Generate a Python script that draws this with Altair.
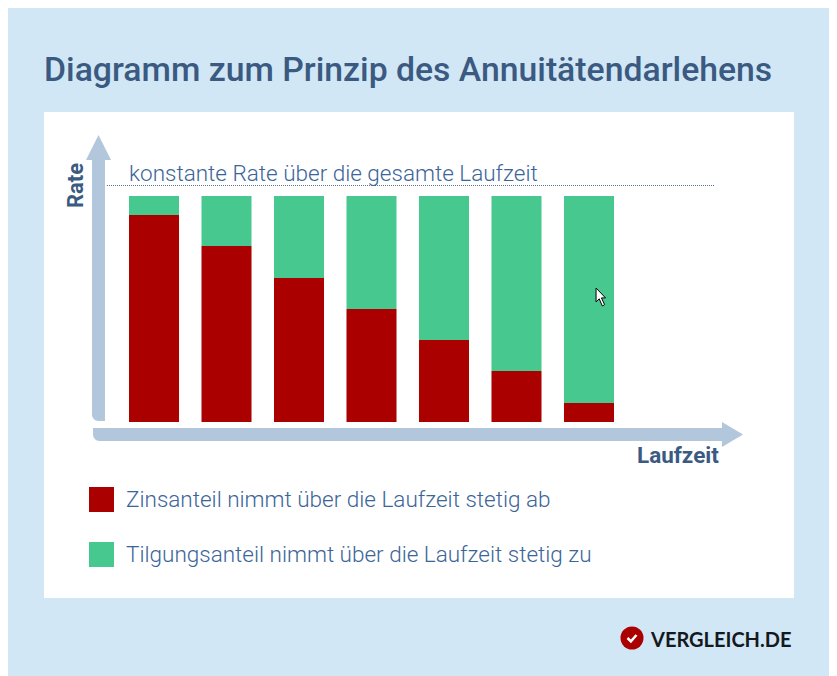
import altair as alt
import pandas as pd

periods = [1, 2, 3, 4, 5, 6, 7]
zins = [91.6, 77.9, 63.7, 50.0, 36.3, 22.6, 8.4]
tilgung = [8.4, 22.1, 36.3, 50.0, 63.7, 77.4, 91.6]
zins_label = "Zinsanteil nimmt über die Laufzeit stetig ab"
tilgung_label = "Tilgungsanteil nimmt über die Laufzeit stetig zu"
title_text = "Diagramm zum Prinzip des Annuitätendarlehens"
rate_note = "konstante Rate über die gesamte Laufzeit"

W, H = 821, 668
OX, OY = 8, 8
BG = "#d2e7f5"
ARROW = "#b2c6dc"
RED = "#aa0000"
GREEN = "#46c88e"
BLUE_TXT = "#3b6598"
HEAD = "#3b5a82"


def px(x):
    return alt.value(x - OX)


def py(y):
    return alt.value(y - OY)


def rect(x0, x1, y0, y1, color, **kw):
    return alt.Chart(pd.DataFrame({"a": [0]})).mark_rect(color=color, **kw).encode(
        x=px(x0), x2=px(x1), y=py(y0), y2=py(y1))


def text(s, x, y, size, color, weight=400, angle=0, align="left", font="Roboto", **kw):
    return alt.Chart(pd.DataFrame({"a": [0]})).mark_text(
        fontSize=size, color=color, fontWeight=weight, angle=angle, align=align,
        baseline="alphabetic", font=font, **kw
    ).encode(x=px(x), y=py(y), text=alt.value(s))


def glyph(shape, x, y, size, **kw):
    return alt.Chart(pd.DataFrame({"a": [0]})).mark_point(shape=shape, size=size, opacity=1, **kw).encode(
        x=px(x), y=py(y))


rows = []
for p, z, t in zip(periods, zins, tilgung):
    rows.append({"p": p, "part": zins_label, "v": z, "o": 0})
    rows.append({"p": p, "part": tilgung_label, "v": t, "o": 1})
df = pd.DataFrame(rows)

bars = alt.Chart(df).mark_bar(strokeWidth=0).encode(
    x=alt.X("p:O", axis=None, scale=alt.Scale(domain=periods, range=[129 - OX, 614 - OX], paddingInner=0.31, paddingOuter=0)),
    y=alt.Y("v:Q", stack="zero", axis=None, scale=alt.Scale(domain=[0, 100], range=[422 - OY, 196 - OY])),
    order=alt.Order("o:Q"),
    color=alt.Color(
        "part:N",
        scale=alt.Scale(domain=[zins_label, tilgung_label], range=[RED, GREEN]),
        legend=alt.Legend(
            title=None, orient="none", legendX=89 - OX, legendY=487 - OY, symbolType="square", symbolSize=625,
            symbolStrokeWidth=0, symbolOpacity=1, labelFont="Roboto", labelFontSize=22.5, labelFontWeight=300,
            labelColor=BLUE_TXT, labelLimit=600, labelOffset=12, rowPadding=30, padding=0,
        ),
    ),
)

arrow_head_x = "M-0.84,-1L0.84,0L-0.84,1Z"
arrow_head_y = "M-1,1L0,-1L1,1Z"
check = "M-0.6,0L-0.15,0.45L0.6,-0.4"
cursor = "M-0.55,-1L-0.55,0.55L-0.2,0.2L0.15,1L0.4,0.85L0.05,0.1L0.5,0.1Z"

chart = alt.layer(
    rect(44, 794, 112, 598, "#ffffff"),
    rect(92, 105, 150, 421, ARROW, cornerRadiusBottomLeft=9),
    glyph(arrow_head_y, 98.5, 147.5, 625, filled=True, color=ARROW, strokeWidth=0),
    rect(93, 724, 428, 441, ARROW, cornerRadiusBottomLeft=10),
    glyph(arrow_head_x, 732.5, 434.5, 625, filled=True, color=ARROW, strokeWidth=0),
    alt.Chart(pd.DataFrame({"a": [0]})).mark_rule(color="#5c7597", strokeDash=[1, 1], strokeWidth=1).encode(
        x=px(107), x2=px(715), y=py(185.5)),
    bars,
    text(title_text, 44, 81, 33.75, HEAD, weight=500),
    text(rate_note, 129, 181, 22.5, BLUE_TXT, weight=300),
    text("Rate", 83, 185.5, 22, HEAD, weight=700, angle=270, align="center"),
    text("Laufzeit", 637, 463, 22.5, HEAD, weight=700),
    glyph(cursor, 601, 297, 324, filled=True, fill="#ffffff", stroke="#000000", strokeWidth=1),
    glyph("circle", 632, 638, 530, filled=True, color="#aa0000", strokeWidth=0),
    glyph(check, 632, 638, 225, filled=False, stroke="#ffffff", strokeWidth=2.5),
    text("VERGLEICH.DE", 651, 647, 20, "#15191e", weight=700, font="Lato"),
).properties(
    width=W,
    height=H,
    background=BG,
    padding=0,
    autosize=alt.AutoSizeParams(type="none"),
).configure_view(stroke=None)

chart.save("out.html", embed_options={"renderer": "svg", "actions": False})
